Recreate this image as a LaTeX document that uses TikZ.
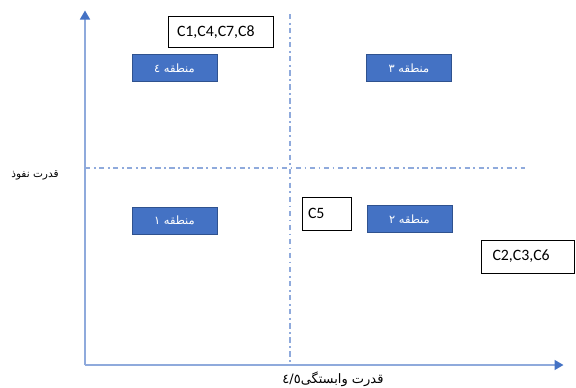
\documentclass[tikz,border=0pt]{standalone}
\usepackage{fontspec}
\setmainfont{Carlito}
\newfontfamily\arabicfont[Script=Arabic]{DejaVu Sans}
\TeXXeTstate=1
\usetikzlibrary{arrows.meta,positioning}
\definecolor{cZone}{HTML}{4472C4}
\definecolor{cZoneEdge}{HTML}{2F528F}
\definecolor{cAxis}{HTML}{8FAADC}
\definecolor{cGrid}{HTML}{8FAADC}

\begin{document}
\begin{tikzpicture}[
    x=0.02cm, y=-0.02cm,
    zone/.style={rectangle, draw=cZoneEdge, fill=cZone, minimum width=1.7cm, minimum height=0.54cm, inner sep=0pt, text=white, font=\arabicfont\fontsize{6.5}{7}\selectfont},
    crit/.style={rectangle, draw, thin, inner xsep=0pt, inner ysep=0pt, align=left, text=black, font=\fontsize{9}{10}\selectfont},
    axis/.style={-{Triangle[length=1.8mm,width=2mm,color=cZone]}, cAxis, line width=0.9pt, shorten >=-0.3mm},
    divider/.style={cGrid, line width=0.7pt, dash pattern=on 3pt off 2pt on 1pt off 2pt},
    axlabel/.style={font=\arabicfont\fontsize{7.4}{9}\selectfont, text=black}
]
\useasboundingbox (0,0) rectangle (576,387);

% axes
\coordinate (o)  at (85,365);
\coordinate (yt) at (85,12);
\coordinate (xt) at (562,365);
\draw[axis] (o) -- (yt);
\draw[axis] (o) -- (xt);

% quadrant dividers
\coordinate (vt) at (290,14);
\coordinate (vb) at (290,365);
\coordinate (hl) at (85,168);
\coordinate (hr) at (525,168);
\draw[divider] (vt) -- (vb);
\draw[divider] (hl) -- (hr);

% zones
\node[zone] (z4) at (174.5,68)  {\beginR منطقه ٤\endR};
\node[zone] (z3) at (409,68)    {\beginR منطقه ٣\endR};
\node[zone] (z1) at (174.5,220.5) {\beginR منطقه ١\endR};
\node[zone] (z2) at (409.5,219) {\beginR منطقه ٢\endR};

% criteria boxes
\node[crit, text width=1.74cm, inner xsep=0.18cm, minimum height=0.62cm] (ca) at (220.5,32) {C1,C4,C7,C8};
\node[crit, text width=0.74cm, inner xsep=0.12cm, minimum height=0.66cm] (cb) at (326.5,213.5) {C5};
\node[crit, text width=1.42cm, inner xsep=0.22cm, minimum height=0.66cm] (cc) at (528,256.5) {C2,C3,C6};

% axis labels
\node[axlabel, font=\arabicfont\fontsize{6}{7}\selectfont] (ly) at (35,175) {\beginR قدرت نفوذ\endR};
\node[axlabel] (lx) at (333,379) {\beginR قدرت وابستگی\beginL ٤/٥\endL\endR};
\end{tikzpicture}
\end{document}
